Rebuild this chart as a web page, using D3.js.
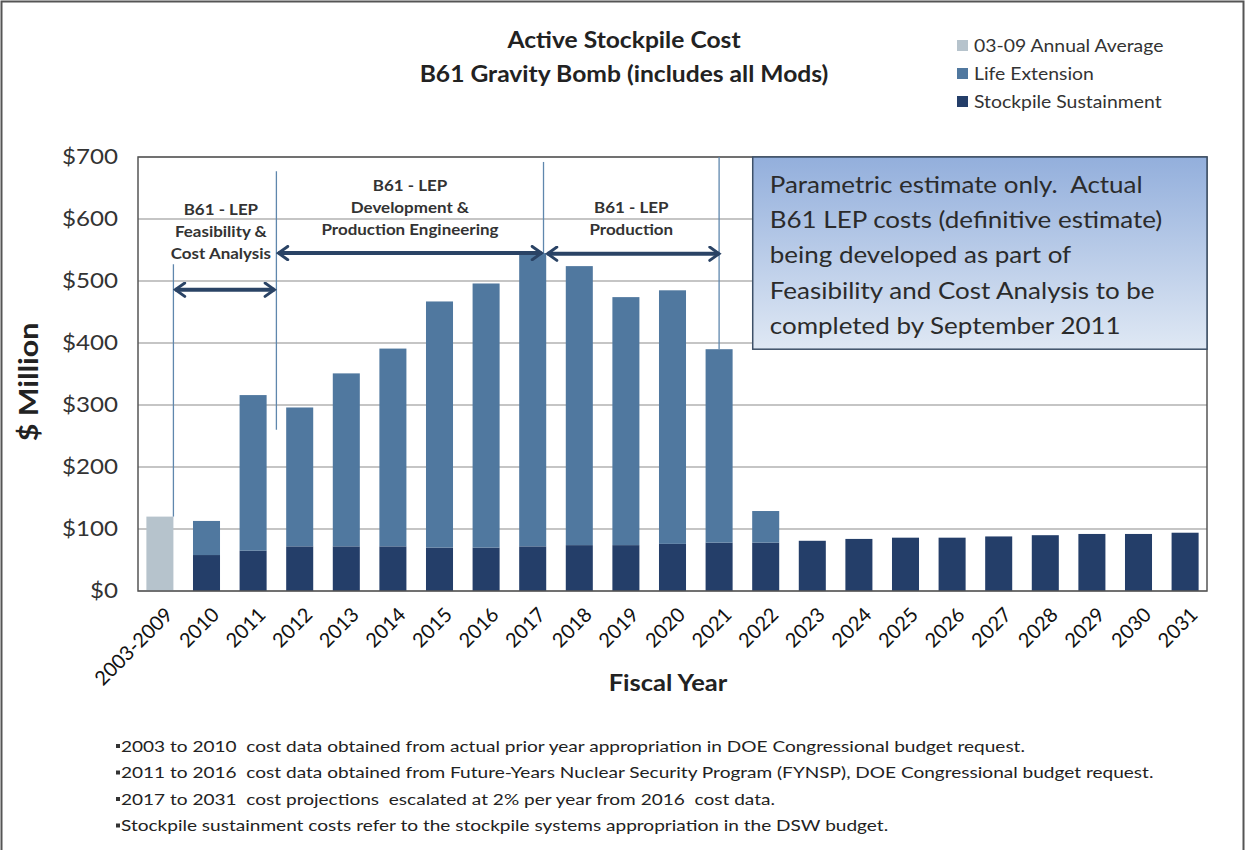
<!DOCTYPE html>
<html>
<head>
<meta charset="utf-8">
<script src="https://cdn.jsdelivr.net/npm/d3@7"></script>
<style>
  body { margin: 0; background: #fff; }
  text { font-family: Lato, "Open Sans", sans-serif; white-space: pre; }
</style>
</head>
<body>
<div id="chart"></div>
<script>
// data
const years = ["2003-2009","2010","2011","2012","2013","2014","2015","2016","2017","2018","2019","2020",
  "2021","2022","2023","2024","2025","2026","2027","2028","2029","2030","2031"];
const average = [120,0,0,0,0,0,0,0,0,0,0,0,0,0,0,0,0,0,0,0,0,0,0];
const lifeExt = [0,55,251,224,279,319,397,426,473,450,400,409,312,51,0,0,0,0,0,0,0,0,0];
const sustain = [0,58,65,72,72,72,70,70,72,74,74,76,78,78,81,84,86,86,88,90,92,92,94];
const yTicks = [0,100,200,300,400,500,600,700];
const seriesNames = ["03-09 Annual Average","Life Extension","Stockpile Sustainment"];
const colors = ["#b6c3cc","#50789f","#243e69"];
const footnotes = [
  "2003 to 2010  cost data obtained from actual prior year appropriation in DOE Congressional budget request.",
  "2011 to 2016  cost data obtained from Future-Years Nuclear Security Program (FYNSP), DOE Congressional budget request.",
  "2017 to 2031  cost projections  escalated at 2% per year from 2016  cost data.",
  "Stockpile sustainment costs refer to the stockpile systems appropriation in the DSW budget."
];
const boxLines = ["Parametric estimate only.  Actual","B61 LEP costs (definitive estimate)",
  "being developed as part of","Feasibility and Cost Analysis to be","completed by September 2011"];

const W = 1245, H = 850;
const margin = { top: 157, right: 38, bottom: 259, left: 138 };
const width = W - margin.left - margin.right;
const height = H - margin.top - margin.bottom;

// text in the original is drawn a little wider than Lato, so stretch it sideways
const stretch = (sel, x, y, k, rot) =>
  sel.attr("transform", `translate(${x},${y})${rot ? ` rotate(${rot})` : ""} scale(${k},1)`);

const root = d3.select("#chart").append("svg").attr("width", W).attr("height", H);
root.append("rect").attr("x",1.5).attr("y",1.5).attr("width",W-3).attr("height",H)
  .attr("fill","#fff").attr("stroke","#555").attr("stroke-width",2);

const svg = root.append("g").attr("transform", `translate(${margin.left},${margin.top})`);

const x = d3.scaleBand().domain(years).range([0, width]).paddingInner(0.42).paddingOuter(0.18);
const y = d3.scaleLinear().domain([0, 700]).range([height, 0]);

// gridlines
svg.selectAll(".grid").data(yTicks).join("line")
  .attr("x1",0).attr("x2",width).attr("y1",d=>y(d)).attr("y2",d=>y(d))
  .attr("stroke","#8c8c8c").attr("stroke-width",1.2);

// stacked bars
const rows = years.map((yr,i) => ({ year: yr, avg: average[i], life: lifeExt[i], sust: sustain[i] }));
const stack = d3.stack().keys(["avg","sust","life"])(rows);
const colorOf = { avg: colors[0], life: colors[1], sust: colors[2] };
stack.forEach(layer => {
  svg.append("g").selectAll("rect").data(layer.filter(d => d[1] > d[0])).join("rect")
    .attr("x", d => x(d.data.year))
    .attr("width", x.bandwidth())
    .attr("y", d => y(d[1]))
    .attr("height", d => y(d[0]) - y(d[1]))
    .attr("fill", colorOf[layer.key]);
});

// plot border
svg.append("rect").attr("width",width).attr("height",height)
  .attr("fill","none").attr("stroke","#555").attr("stroke-width",1.5);

// y axis labels
svg.append("g").selectAll("text").data(yTicks).join("text")
  .each(function(d){ stretch(d3.select(this), -20, y(d), 1.15); })
  .attr("dy","0.35em").attr("text-anchor","end")
  .attr("font-size",21).attr("fill","#333").text(d=>"$"+d);

stretch(svg.append("text"), -100, height/2 + 8, 1.17, -90)
  .attr("text-anchor","middle").attr("font-size",26).attr("font-weight","bold").attr("fill","#222")
  .text("$ Million");

// x axis labels
svg.append("g").selectAll("text").data(years).join("text")
  .attr("transform", d => `translate(${x(d)+x.bandwidth()/2+9},${height+20}) rotate(-45)`)
  .attr("text-anchor","end").attr("dy","0.35em").attr("font-size",20).attr("fill","#111")
  .text(d=>d);

stretch(svg.append("text"), 668-margin.left, height+100, 1.11)
  .attr("text-anchor","middle")
  .attr("font-size",23).attr("font-weight","bold").attr("fill","#222").text("Fiscal Year");

// phase annotations
const edge = (yr,f) => x(yr) + x.bandwidth()*f;
const vlines = [
  { x: edge("2003-2009",1), y1: 527, y2: 120 },
  { x: (edge("2011",1)+x("2012"))/2, y1: 677, y2: 260 },
  { x: edge("2017",0.9), y1: 692, y2: 545 },
  { x: edge("2021",0.5), y1: 700, y2: 390 }
];
svg.selectAll(".vl").data(vlines).join("line")
  .attr("x1",d=>d.x).attr("x2",d=>d.x).attr("y1",d=>y(d.y1)).attr("y2",d=>y(d.y2))
  .attr("stroke","#5f87ad").attr("stroke-width",1.3);

const defs = svg.append("defs");
defs.append("marker").attr("id","chev").attr("viewBox","0 0 12 12")
  .attr("refX",10).attr("refY",6).attr("markerWidth",4).attr("markerHeight",4)
  .attr("orient","auto-start-reverse").attr("markerUnits","strokeWidth")
  .append("path").attr("d","M3,1 L10,6 L3,11").attr("fill","none")
  .attr("stroke","#2a4365").attr("stroke-width",2.2).attr("stroke-linecap","round");

const arrows = [
  { x1: vlines[0].x+2, x2: vlines[1].x-2, v: 486 },
  { x1: vlines[1].x+2, x2: vlines[2].x-2, v: 545 },
  { x1: vlines[2].x+4, x2: vlines[3].x,   v: 544 }
];
svg.selectAll(".arr").data(arrows).join("line")
  .attr("x1",d=>d.x1).attr("x2",d=>d.x2).attr("y1",d=>y(d.v)).attr("y2",d=>y(d.v))
  .attr("stroke","#2a4365").attr("stroke-width",4)
  .attr("marker-start","url(#chev)").attr("marker-end","url(#chev)");

const phaseLabels = [
  { cx: (vlines[0].x+vlines[1].x)/2 - 4, top: 614, lines: ["B61 - LEP","Feasibility &","Cost Analysis"] },
  { cx: (vlines[1].x+vlines[2].x)/2, top: 654, lines: ["B61 - LEP","Development &","Production Engineering"] },
  { cx: (vlines[2].x+vlines[3].x)/2, top: 617, lines: ["B61 - LEP","Production"] }
];
phaseLabels.forEach(p => {
  stretch(svg.append("text"), p.cx, y(p.top)+5, 1.13)
    .attr("text-anchor","middle").attr("font-size",15).attr("font-weight","bold")
    .attr("fill","#333")
    .selectAll("tspan").data(p.lines).join("tspan")
    .attr("x",0).attr("y",(d,i)=>i*22).text(d=>d);
});

// note box
const grad = defs.append("linearGradient").attr("id","boxg")
  .attr("x1",0).attr("y1",0).attr("x2",0).attr("y2",1);
grad.append("stop").attr("offset","0%").attr("stop-color","#93afdc");
grad.append("stop").attr("offset","100%").attr("stop-color","#dfe8f4");
const bx = edge("2022",0.02);
svg.append("rect").attr("x",bx).attr("y",y(700)).attr("width",width-bx).attr("height",y(390)-y(700))
  .attr("fill","url(#boxg)").attr("stroke","#3d5068").attr("stroke-width",1.5);
stretch(svg.append("text"), bx+17, 36, 1.13).attr("font-size",23).attr("fill","#2b2b2b")
  .selectAll("tspan").data(boxLines).join("tspan")
  .attr("x",0).attr("y",(d,i)=>i*35.2).text(d=>d);

// title
const title = stretch(root.append("text"), 624, 48, 1.12).attr("text-anchor","middle").attr("font-size",22)
  .attr("font-weight","bold").attr("fill","#222");
title.append("tspan").attr("x",0).attr("y",0).text("Active Stockpile Cost");
title.append("tspan").attr("x",0).attr("y",34).text("B61 Gravity Bomb (includes all Mods)");

// legend
const legend = root.append("g").attr("transform","translate(957,46)");
seriesNames.forEach((n,i) => {
  const g = legend.append("g").attr("transform",`translate(0,${i*28})`);
  g.append("rect").attr("x",0).attr("y",-6).attr("width",11).attr("height",11).attr("fill",colors[i]);
  stretch(g.append("text"), 17, 0, 1.14).attr("dy","0.35em").attr("font-size",17).attr("fill","#333").text(n);
});

// footnotes
const notes = root.append("g");
footnotes.forEach((t,i) => {
  const yy = 746 + i*26.5;
  notes.append("rect").attr("x",116).attr("y",yy-2).attr("width",4).attr("height",4).attr("fill","#333");
  stretch(notes.append("text"), 121, yy, 1.19).attr("dy","0.35em").attr("font-size",16)
    .attr("fill","#222").text(t);
});
</script>
</body>
</html>
